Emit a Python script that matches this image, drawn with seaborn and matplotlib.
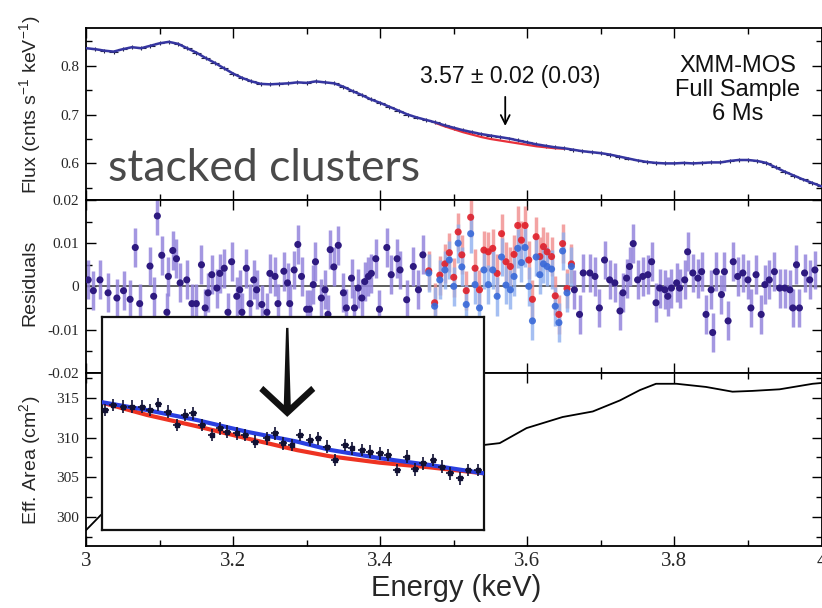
import numpy as np
import pandas as pd
import matplotlib
matplotlib.use("Agg")
import matplotlib.pyplot as plt
import seaborn as sns
from matplotlib.ticker import MultipleLocator, FixedLocator
from matplotlib.patches import Polygon

# ---------------- stacked spectrum (counts s^-1 keV^-1) ----------------
flux_energy = [3.0, 3.0125, 3.025, 3.0375, 3.05, 3.0625, 3.075, 3.0875, 3.1, 3.1125,
               3.125, 3.1375, 3.15, 3.1625, 3.175, 3.1875, 3.2, 3.2125, 3.225, 3.2375,
               3.25, 3.2625, 3.275, 3.2875, 3.3, 3.3125, 3.325, 3.3375, 3.35, 3.3625,
               3.375, 3.3875, 3.4, 3.4125, 3.425, 3.4375, 3.45, 3.4625, 3.475, 3.4875,
               3.5, 3.5125, 3.525, 3.5375, 3.55, 3.5625, 3.575, 3.5875, 3.6, 3.6125,
               3.625, 3.6375, 3.65, 3.6625, 3.675, 3.6875, 3.7, 3.7125, 3.725, 3.7375,
               3.75, 3.7625, 3.775, 3.7875, 3.8, 3.8125, 3.825, 3.8375, 3.85, 3.8625,
               3.875, 3.8875, 3.9, 3.9125, 3.925, 3.9375, 3.95, 3.9625, 3.975, 3.9875, 4.0]
flux_counts = [0.836, 0.834, 0.831, 0.829, 0.834, 0.838, 0.836, 0.841, 0.846, 0.849,
               0.845, 0.836, 0.827, 0.816, 0.806, 0.795, 0.784, 0.775, 0.768, 0.763,
               0.762, 0.763, 0.764, 0.766, 0.765, 0.768, 0.766, 0.764, 0.757, 0.748,
               0.740, 0.731, 0.724, 0.716, 0.708, 0.700, 0.694, 0.689, 0.684, 0.678,
               0.673, 0.668, 0.664, 0.660, 0.657, 0.654, 0.651, 0.647, 0.643, 0.639,
               0.636, 0.633, 0.631, 0.628, 0.625, 0.623, 0.621, 0.618, 0.614, 0.610,
               0.606, 0.603, 0.601, 0.600, 0.600, 0.601, 0.600, 0.601, 0.602, 0.602,
               0.605, 0.607, 0.607, 0.605, 0.601, 0.592, 0.583, 0.575, 0.567, 0.560, 0.553]

# continuum model without the 3.57 keV line
nolinemodel_energy = [3.475, 3.4875, 3.5, 3.5125, 3.525, 3.5375, 3.55, 3.5625,
                      3.575, 3.5875, 3.6, 3.6125, 3.625, 3.6375, 3.65]
nolinemodel_counts = [0.683, 0.676, 0.670, 0.664, 0.659, 0.654, 0.650, 0.647,
                      0.644, 0.641, 0.638, 0.635, 0.633, 0.631, 0.630]

line_centre = 3.57
line_err_stat = 0.02
line_err_sys = 0.03

# ---------------- residuals ----------------
# bins where both models give the same residual
resid_energy = [3.003, 3.010, 3.019, 3.030, 3.042, 3.051, 3.060, 3.067, 3.073, 3.087,
                3.092, 3.097, 3.103, 3.110, 3.112, 3.118, 3.123, 3.128, 3.137, 3.144,
                3.150, 3.157, 3.162, 3.166, 3.171, 3.178, 3.182, 3.188, 3.193, 3.198,
                3.205, 3.209, 3.212, 3.218, 3.223, 3.228, 3.232, 3.239, 3.246, 3.250,
                3.257, 3.261, 3.269, 3.274, 3.277, 3.283, 3.288, 3.293, 3.300, 3.304,
                3.309, 3.312, 3.320, 3.325, 3.329, 3.332, 3.337, 3.343, 3.350, 3.354,
                3.361, 3.365, 3.370, 3.375, 3.379, 3.384, 3.388, 3.394, 3.399, 3.409,
                3.415, 3.423, 3.427, 3.436, 3.445, 3.452, 3.458,
                3.664, 3.671, 3.676, 3.685, 3.692, 3.698, 3.705, 3.712, 3.719, 3.726,
                3.730, 3.735, 3.739, 3.744, 3.750, 3.757, 3.764, 3.769, 3.775, 3.780,
                3.787, 3.791, 3.796, 3.803, 3.807, 3.814, 3.818, 3.825, 3.832, 3.837,
                3.843, 3.850, 3.852, 3.857, 3.864, 3.868, 3.873, 3.880, 3.886, 3.893,
                3.900, 3.904, 3.911, 3.918, 3.923, 3.929, 3.936, 3.943, 3.950, 3.957,
                3.961, 3.966, 3.970, 3.977, 3.984, 3.991]
resid_value = [0.0015, -0.0010, 0.0015, -0.0015, -0.0027, -0.0010, -0.0030, 0.0090, -0.0040, 0.0047,
               -0.0023, 0.0163, 0.0072, -0.0060, 0.0023, 0.0083, 0.0064, 0.0008, 0.0015, -0.0040,
               -0.0040, 0.0050, -0.0050, -0.0015, 0.0027, -0.0004, 0.0030, 0.0042, -0.0060, 0.0057,
               -0.0023, -0.0008, -0.0060, 0.0042, -0.0040, 0.0015, -0.0008, -0.0042, -0.0060, 0.0030,
               0.0023, -0.0040, 0.0035, 0.0008, -0.0040, 0.0038, 0.0097, 0.0023, -0.0053, -0.0053,
               0.0004, 0.0057, -0.0027, -0.0008, -0.0065, 0.0085, 0.0045, 0.0095, -0.0015, -0.0050,
               0.0019, -0.0050, -0.0004, -0.0027, 0.0011, 0.0023, 0.0030, 0.0064, -0.0053, 0.0090,
               0.0027, 0.0064, 0.0038, -0.0031, 0.0046, -0.0008, 0.0073,
               -0.0008, -0.0065, 0.0031, 0.0031, 0.0023, -0.0050, 0.0061, 0.0015, 0.0008, -0.0057,
               -0.0015, 0.0019, 0.0046, 0.0099, 0.0015, 0.0023, 0.0027, 0.0057, -0.0038, -0.0004,
               -0.0008, -0.0023, -0.0004, 0.0008, -0.0004, 0.0015, 0.0080, 0.0031, 0.0019, 0.0034,
               -0.0065, -0.0008, -0.0107, 0.0034, -0.0019, 0.0034, -0.0080, 0.0057, 0.0023, 0.0031,
               0.0015, -0.0050, 0.0027, -0.0065, 0.0004, 0.0015, 0.0034, -0.0004, -0.0004, -0.0008,
               -0.0050, 0.0050, -0.0050, 0.0031, 0.0015, 0.0038]

# bins around the line: residuals with and without the line component
line_energy = [3.466, 3.474, 3.481, 3.488, 3.494, 3.500, 3.506, 3.511, 3.517, 3.523,
               3.529, 3.535, 3.541, 3.547, 3.553, 3.559, 3.565, 3.571, 3.577, 3.582,
               3.587, 3.592, 3.597, 3.602, 3.607, 3.612, 3.617, 3.622, 3.627, 3.633,
               3.638, 3.643, 3.648, 3.654, 3.660]
resid_with_line = [0.0031, -0.0046, 0.0015, 0.0038, 0.0061, 0.0000, 0.0100, 0.0045, -0.0042, 0.0122,
                   0.0004, -0.0050, 0.0038, 0.0004, 0.0038, -0.0023, 0.0068, 0.0003, -0.0008, 0.0023,
                   0.0088, 0.0055, 0.0090, 0.0000, -0.0080, 0.0068, 0.0027, 0.0052, 0.0046, 0.0040,
                   -0.0046, -0.0084, 0.0082, -0.0015, 0.0046]
resid_no_line = [0.0036, -0.0038, 0.0026, 0.0052, 0.0078, 0.0021, 0.0126, 0.0073, -0.0010, 0.0160,
                 0.0042, -0.0008, 0.0084, 0.0080, 0.0088, 0.0030, 0.0122, 0.0057, 0.0046, 0.0074,
                 0.0141, 0.0107, 0.0141, 0.0061, -0.0030, 0.0115, 0.0069, 0.0092, 0.0080, 0.0069,
                 -0.0022, -0.0065, 0.0099, -0.0005, 0.0052]

# ---------------- effective area (cm^2) ----------------
area_energy = [3.0, 3.02, 3.05, 3.1, 3.2, 3.3, 3.4, 3.5, 3.544, 3.5625, 3.599, 3.648,
               3.689, 3.726, 3.753, 3.775, 3.803, 3.843, 3.879, 3.906, 3.943, 3.988, 4.0]
area_value = [298.3, 300.2, 301.8, 303.5, 305.5, 306.8, 307.8, 308.6, 309.1, 309.3, 311.2, 312.6,
              313.3, 314.7, 316.0, 316.8, 316.8, 316.4, 315.8, 315.9, 316.1, 316.8, 316.9]

# ---------------- close-up of the line region ----------------
zoom_curve_energy = [3.473, 3.4966, 3.5227, 3.5489, 3.5751, 3.5924, 3.6185, 3.6447, 3.673]
zoom_with_line = [0.600, 0.563, 0.516, 0.461, 0.415, 0.376, 0.337, 0.305, 0.266]
zoom_no_line = [0.598, 0.540, 0.487, 0.430, 0.375, 0.346, 0.316, 0.294, 0.266]
zoom_data_energy = [3.4746, 3.4789, 3.4842, 3.4886, 3.4938, 3.4981, 3.5025, 3.5077, 3.5121, 3.5165,
                    3.5208, 3.5252, 3.5304, 3.5348, 3.5383, 3.5435, 3.5479, 3.5531, 3.5592, 3.5636,
                    3.5679, 3.5723, 3.5767, 3.5819, 3.5863, 3.5907, 3.5950, 3.6002, 3.6037, 3.6090,
                    3.6133, 3.6186, 3.6229, 3.6273, 3.6325, 3.6369, 3.6412, 3.6465, 3.6509, 3.6552,
                    3.6604, 3.6648, 3.6700]
zoom_data_level = [0.563, 0.587, 0.579, 0.579, 0.579, 0.563, 0.590, 0.555, 0.493, 0.540,
                   0.548, 0.493, 0.446, 0.477, 0.461, 0.454, 0.446, 0.415, 0.431, 0.454,
                   0.407, 0.399, 0.446, 0.423, 0.431, 0.391, 0.329, 0.399, 0.384, 0.376,
                   0.368, 0.360, 0.352, 0.282, 0.344, 0.285, 0.313, 0.329, 0.297, 0.266,
                   0.243, 0.282, 0.282]

# ------------------------------------------------------------------
sns.set_style("ticks")
plt.rcParams["font.family"] = ["Liberation Sans", "DejaVu Sans"]
plt.rcParams["axes.unicode_minus"] = False
plt.rcParams["mathtext.fontset"] = "custom"
plt.rcParams["mathtext.rm"] = "Liberation Sans"
plt.rcParams["mathtext.it"] = "Liberation Sans"

W, H = 822, 608
fig = plt.figure(figsize=(W / 100, H / 100), dpi=100)
fig.patch.set_facecolor("white")

x0 = 86 / W
xw = (821.5 - 86) / W
def px_box(top, bottom):
    return [x0, 1 - bottom / H, xw, (bottom - top) / H]

ax_flux = fig.add_axes(px_box(27.7, 200))
ax_res = fig.add_axes(px_box(200, 372.7), sharex=ax_flux)
ax_area = fig.add_axes(px_box(372.7, 546), sharex=ax_flux)

tick_font = dict(family=["Liberation Serif", "DejaVu Serif"])
for ax in (ax_flux, ax_res, ax_area):
    ax.set_facecolor("white")
    for s in ax.spines.values():
        s.set_linewidth(1.3)
        s.set_color("black")
    ax.tick_params(which="both", direction="in", top=True, right=True, width=1.0, color="black")
    ax.tick_params(which="major", length=7)
    ax.tick_params(which="minor", length=4)
    ax.xaxis.set_major_locator(MultipleLocator(0.2))
    ax.xaxis.set_minor_locator(MultipleLocator(0.1))
ax_flux.set_xlim(3.0, 4.0)

# --- spectrum panel ---
flux_df = pd.DataFrame({"energy": flux_energy, "flux": flux_counts})
ax_flux.errorbar(flux_energy, flux_counts, yerr=0.004, xerr=0.006, fmt="none",
                 ecolor="#202040", elinewidth=0.8, zorder=2)
model_df = pd.DataFrame({"energy": nolinemodel_energy, "flux": nolinemodel_counts})
sns.lineplot(data=model_df, x="energy", y="flux", ax=ax_flux, color="#e8303a",
             linewidth=1.6, zorder=3)
sns.lineplot(data=flux_df, x="energy", y="flux", ax=ax_flux, color="#3535a0",
             linewidth=1.8, zorder=4)
ax_flux.set_ylim(0.525, 0.878)
ax_flux.yaxis.set_major_locator(FixedLocator([0.6, 0.7, 0.8]))
ax_flux.yaxis.set_minor_locator(FixedLocator([0.55, 0.65, 0.75, 0.85]))
ax_flux.set_yticklabels(["0.6", "0.7", "0.8"], fontsize=11, **tick_font)
ax_flux.tick_params(axis="x", labelbottom=False)
ax_flux.set_xlabel("")
ax_flux.set_ylabel("")

ax_flux.text(3.030, 0.563, "stacked clusters", fontsize=32, color="#4a4a4a",
             family=["Lato", "DejaVu Sans"], ha="left", va="baseline", zorder=6)
ax_flux.text(line_centre + 0.007, 0.779,
             f"{line_centre:.2f} \u00b1 {line_err_stat:.2f} ({line_err_sys:.2f})",
             fontsize=16.5, ha="center", va="center", color="#111111")
ax_flux.annotate("", xy=(line_centre, 0.671), xytext=(line_centre, 0.742),
                 arrowprops=dict(arrowstyle="->", color="black", lw=1.3,
                                 mutation_scale=16))
ax_flux.text(3.886, 0.750, "XMM-MOS\nFull Sample\n6 Ms", fontsize=17,
             ha="center", va="center", linespacing=1.1, color="#111111")

# --- residual panel ---
ax_res.axhline(0, color="#444444", lw=1.2, zorder=1)
ax_res.errorbar(resid_energy, resid_value, yerr=0.0045, xerr=0.0025, fmt="none",
                ecolor="#9485dc", elinewidth=2.5, alpha=0.85, zorder=2)
ax_res.errorbar(line_energy, resid_no_line, yerr=0.0045, xerr=0.0025, fmt="none",
                ecolor="#f08c8c", elinewidth=2.5, alpha=0.8, zorder=2)
ax_res.errorbar(line_energy, resid_with_line, yerr=0.0045, xerr=0.0025, fmt="none",
                ecolor="#8fb0ef", elinewidth=2.5, alpha=0.8, zorder=2)
res_df = pd.DataFrame({"energy": resid_energy, "resid": resid_value})
line_df = pd.DataFrame({"energy": line_energy, "with": resid_with_line, "without": resid_no_line})
sns.scatterplot(data=line_df, x="energy", y="without", ax=ax_res, color="#e0202a",
                s=26, edgecolor="none", alpha=0.9, zorder=3)
sns.scatterplot(data=line_df, x="energy", y="with", ax=ax_res, color="#3a6ad8",
                s=26, edgecolor="none", alpha=0.9, zorder=3)
sns.scatterplot(data=res_df, x="energy", y="resid", ax=ax_res, color="#2e1a80",
                s=26, edgecolor="none", zorder=3)
ax_res.set_ylim(-0.02, 0.02)
ax_res.yaxis.set_major_locator(FixedLocator([-0.02, -0.01, 0.0, 0.01, 0.02]))
ax_res.yaxis.set_minor_locator(FixedLocator([-0.015, -0.005, 0.005, 0.015]))
ax_res.set_yticklabels(["-0.02", "-0.01", "0", "0.01", "0.02"], fontsize=11, **tick_font)
ax_res.tick_params(axis="x", labelbottom=False)
ax_res.set_xlabel("")
ax_res.set_ylabel("")

# --- effective area panel ---
area_df = pd.DataFrame({"energy": area_energy, "area": area_value})
sns.lineplot(data=area_df, x="energy", y="area", ax=ax_area, color="black", linewidth=1.3)
ax_area.set_ylim(296.3, 318.2)
ax_area.yaxis.set_major_locator(FixedLocator([300, 305, 310, 315]))
ax_area.yaxis.set_minor_locator(FixedLocator([297.5, 302.5, 307.5, 312.5, 317.5]))
ax_area.set_yticklabels(["300", "305", "310", "315"], fontsize=11, **tick_font)
ax_area.set_xticks([3.0, 3.2, 3.4, 3.6, 3.8, 4.0])
ax_area.set_xticklabels(["3", "3.2", "3.4", "3.6", "3.8", "4"], fontsize=15, **tick_font)
ax_area.tick_params(axis="x", pad=4)
ax_area.set_xlabel("")
ax_area.set_ylabel("")

for ax in (ax_flux, ax_res, ax_area):
    ax.tick_params(axis="y", pad=5)

# axis titles
fig.text(30 / W, 1 - 105 / H, r"Flux (cnts s$^{-1}$ keV$^{-1}$)", rotation=90,
         ha="center", va="center", fontsize=14)
fig.text(30 / W, 1 - 283 / H, "Residuals", rotation=90, ha="center", va="center", fontsize=14)
fig.text(30 / W, 1 - 460 / H, r"Eff. Area (cm$^{2}$)", rotation=90, ha="center",
         va="center", fontsize=14)
fig.text(456 / W, 1 - 588 / H, "Energy (keV)", ha="center", va="center", fontsize=21)

# --- close-up of the line region ---
ax_in = fig.add_axes([102 / W, 1 - 530 / H, 382 / W, 213 / H], zorder=10)
ax_in.set_facecolor("white")
for s in ax_in.spines.values():
    s.set_linewidth(1.6)
    s.set_color("#111111")
ax_in.set_xticks([])
ax_in.set_yticks([])
ax_in.set_xlim(3.473, 3.673)
ax_in.set_ylim(0.0, 1.0)
zc_df = pd.DataFrame({"energy": zoom_curve_energy, "with": zoom_with_line, "without": zoom_no_line})
sns.lineplot(data=zc_df, x="energy", y="without", ax=ax_in, color="#ee3322", linewidth=3.0, zorder=2)
sns.lineplot(data=zc_df, x="energy", y="with", ax=ax_in, color="#2a3fe0", linewidth=3.0, zorder=3)
ax_in.errorbar(zoom_data_energy, zoom_data_level, yerr=0.03, xerr=0.002, fmt="s",
               ms=3, color="#111133", elinewidth=1.2, zorder=4)
ax_in.set_xlabel("")
ax_in.set_ylabel("")

# big arrow above the line position (pixel offsets from the tip)
tip_x = (line_centre - 3.473) / 0.2
tip_y = 0.531
arrow_px = [(0, 0), (28, 26), (24, 31), (3.5, 12), (1.2, 89), (-1.2, 89),
            (-3.5, 12), (-24, 31), (-28, 26)]
arrow_pts = [(tip_x + dx / 382, tip_y + dy / 213) for dx, dy in arrow_px]
ax_in.add_patch(Polygon(arrow_pts, closed=True, transform=ax_in.transAxes,
                        facecolor="#111111", edgecolor="none", zorder=5))

fig.savefig("out.png", dpi=100, facecolor="white")
